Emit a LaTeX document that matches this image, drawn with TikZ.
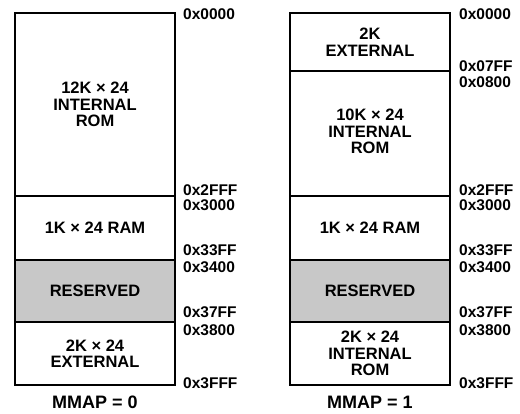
\documentclass[tikz,border=0pt]{standalone}
\usepackage{fontspec}
\setmainfont{Liberation Sans}
\usetikzlibrary{positioning}
\definecolor{resgray}{RGB}{200,200,200}
\tikzset{
  seg/.style={draw,line width=1.3pt,minimum width=160pt,inner sep=0pt,outer sep=0pt,
    align=center,font=\fontsize{16.5}{16.5}\selectfont\bfseries},
  rsv/.style={seg,fill=resgray,line width=2.2pt},
  frame/.style={draw,line width=2.4pt},
  addr/.style={anchor=west,inner sep=0pt,font=\fontsize{15.5}{15.5}\selectfont\bfseries},
  mmap/.style={inner sep=0pt,font=\fontsize{18}{18}\selectfont\bfseries},
}
\begin{document}
\begin{tikzpicture}[x=1pt,y=-1pt]
  \useasboundingbox (0,0) rectangle (520,413);
  % MMAP = 0
  \node[seg,anchor=north west,minimum height=183pt] (romA) at (15,13) {12K × 24\\INTERNAL\\ROM};
  \node[seg,minimum height=64pt,below=0pt of romA] (ramA) {1K × 24 RAM};
  \node[rsv,minimum height=62pt,below=0pt of ramA] (resA) {RESERVED};
  \node[seg,minimum height=63pt,below=0pt of resA] (extA) {2K × 24\\EXTERNAL};
  \draw[frame] (romA.north west) rectangle (extA.south east);
  \node[mmap] (capA) at (95,402) {MMAP = 0};
  % MMAP = 1
  \node[seg,anchor=north west,minimum height=58pt] (extB) at (290,13) {2K\\EXTERNAL};
  \node[seg,minimum height=125pt,below=0pt of extB] (romB) {\\[-9pt]10K × 24\\INTERNAL\\ROM};
  \node[seg,minimum height=64pt,below=0pt of romB] (ramB) {1K × 24 RAM};
  \node[rsv,minimum height=62pt,below=0pt of ramB] (resB) {RESERVED};
  \node[seg,minimum height=63pt,below=0pt of resB] (intB) {2K × 24\\INTERNAL\\ROM};
  \draw[frame] (extB.north west) rectangle (intB.south east);
  \node[mmap] (capB) at (370,402) {MMAP = 1};
  % addresses
  \foreach \a/\y [count=\n] in {0x0000/14.5,0x2FFF/190,0x3000/205,0x33FF/250.5,
      0x3400/267.5,0x37FF/312.5,0x3800/330,0x3FFF/383.5}
    \node[addr] (adrA\n) at (183,\y) {\a};
  \foreach \a/\y [count=\n] in {0x0000/14.5,0x07FF/66.5,0x0800/82.5,0x2FFF/190,0x3000/205,
      0x33FF/250.5,0x3400/267.5,0x37FF/312.5,0x3800/330,0x3FFF/383.5}
    \node[addr] (adrB\n) at (459,\y) {\a};
\end{tikzpicture}
\end{document}
